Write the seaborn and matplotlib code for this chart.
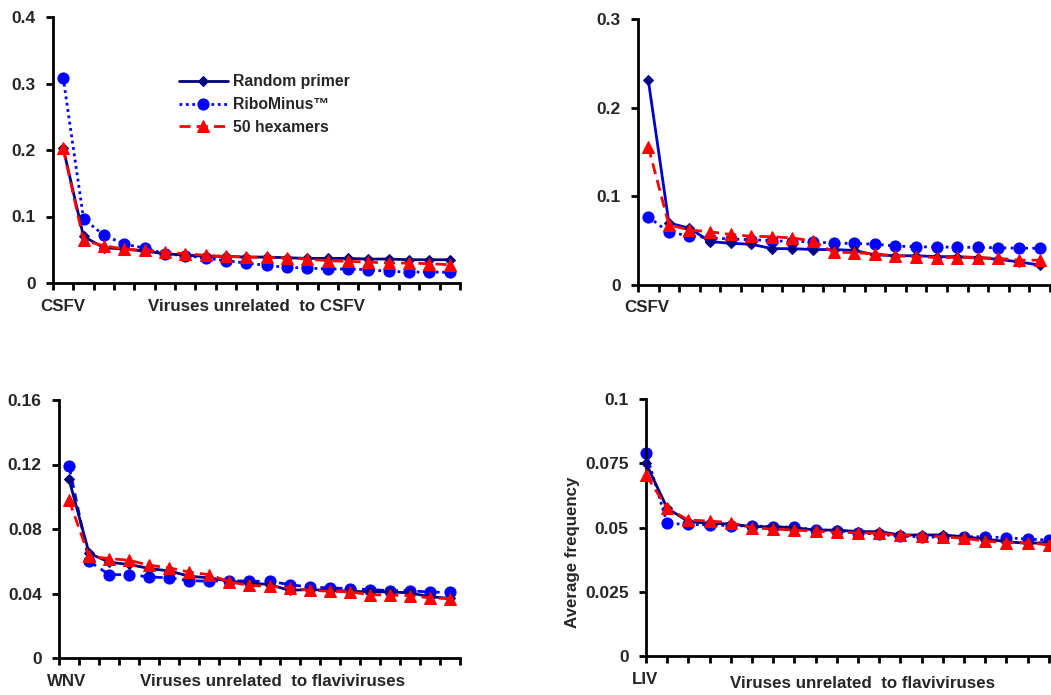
import numpy as np
import pandas as pd
import matplotlib
matplotlib.use("Agg")
import matplotlib.pyplot as plt
import seaborn as sns

sns.set_theme(style="white")
plt.rcParams['font.family'] = ['Liberation Sans', 'DejaVu Sans']
plt.rcParams['font.weight'] = 'bold'

series_names = ["Random primer", "RiboMinus\u2122", "50 hexamers"]

# Panel A: CSFV (top-left)
a_random = [0.203, 0.070, 0.053, 0.051, 0.048, 0.044, 0.042, 0.040, 0.040, 0.039,
            0.039, 0.038, 0.037, 0.037, 0.037, 0.036, 0.036, 0.035, 0.035, 0.035]
a_ribo = [0.309, 0.0965, 0.072, 0.0585, 0.0525, 0.044, 0.041, 0.0375, 0.0335, 0.030,
          0.0265, 0.0235, 0.0225, 0.021, 0.021, 0.020, 0.0175, 0.0165, 0.0165, 0.016]
a_hex = [0.2025, 0.064, 0.056, 0.051, 0.049, 0.0465, 0.044, 0.0415, 0.040, 0.039,
         0.0385, 0.0375, 0.036, 0.0335, 0.0325, 0.0315, 0.030, 0.030, 0.029, 0.0275]

# Panel B: CSFV (top-right)
b_random = [0.231, 0.070, 0.064, 0.049, 0.047, 0.046, 0.041, 0.041, 0.040, 0.040,
            0.039, 0.034, 0.033, 0.033, 0.032, 0.032, 0.031, 0.029, 0.026, 0.0225]
b_ribo = [0.077, 0.0594, 0.0556, 0.053, 0.052, 0.051, 0.050, 0.049, 0.049, 0.047,
          0.047, 0.046, 0.044, 0.043, 0.043, 0.0425, 0.0425, 0.042, 0.0415, 0.0415]
b_hex = [0.156, 0.068, 0.062, 0.060, 0.057, 0.055, 0.0545, 0.053, 0.0496, 0.037,
         0.0365, 0.035, 0.033, 0.032, 0.031, 0.031, 0.031, 0.030, 0.028, 0.028]

# Panel C: WNV (bottom-left)
c_random = [0.1107, 0.065, 0.0594, 0.058, 0.0555, 0.054, 0.0507, 0.0497, 0.0476, 0.0466,
            0.0455, 0.042, 0.0424, 0.042, 0.0414, 0.041, 0.041, 0.0404, 0.038, 0.037]
c_ribo = [0.119, 0.060, 0.0517, 0.0517, 0.0503, 0.0497, 0.048, 0.0476, 0.048, 0.0476,
          0.0476, 0.0455, 0.044, 0.0435, 0.043, 0.0424, 0.0418, 0.0418, 0.0408, 0.0408]
c_hex = [0.098, 0.063, 0.0617, 0.0606, 0.0575, 0.0559, 0.0532, 0.0517, 0.0472, 0.045,
         0.0445, 0.0435, 0.042, 0.0414, 0.041, 0.0393, 0.039, 0.0387, 0.0373, 0.0368]

# Panel D: LIV (bottom-right)
d_random = [0.075, 0.0575, 0.0523, 0.0516, 0.0514, 0.0503, 0.0503, 0.0499, 0.049, 0.049,
            0.0484, 0.0484, 0.0471, 0.0471, 0.0471, 0.0464, 0.0455, 0.0445, 0.0438, 0.0442]
d_ribo = [0.079, 0.0516, 0.0512, 0.051, 0.0507, 0.0506, 0.0503, 0.0501, 0.049, 0.0488,
          0.048, 0.0473, 0.0467, 0.0464, 0.0462, 0.0464, 0.0464, 0.046, 0.0455, 0.0451]
d_hex = [0.0704, 0.0575, 0.0529, 0.0525, 0.0519, 0.0499, 0.0494, 0.049, 0.0486, 0.0481,
         0.048, 0.0477, 0.0471, 0.0467, 0.0464, 0.0458, 0.0447, 0.0441, 0.0441, 0.0432]

a_yticks = [0, 0.1, 0.2, 0.3, 0.4]
a_ylabels = ["0", "0.1", "0.2", "0.3", "0.4"]
b_yticks = [0, 0.1, 0.2, 0.3]
b_ylabels = ["0", "0.1", "0.2", "0.3"]
c_yticks = [0, 0.04, 0.08, 0.12, 0.16]
c_ylabels = ["0", "0.04", "0.08", "0.12", "0.16"]
d_yticks = [0, 0.025, 0.05, 0.075, 0.1]
d_ylabels = ["0", "0.025", "0.05", "0.075", "0.1"]

W, H = 1051, 695
fig = plt.figure(figsize=(W / 100, H / 100), dpi=100)

def px_axes(l, t, r, b):
    return fig.add_axes([l / W, 1 - b / H, (r - l) / W, (b - t) / H])

NAVY = "#000080"
BLUE = "#0000FF"
RED = "#FF0000"
TICKFS = 12.5
LABELFS = 12.2

def draw(ax, random, ribo, hex_, ribo_ls, random_line_color, between=True, ymax=0.4,
         yticks=None, ylabels=None, xmax=19.5, legend=False):
    n = len(random)
    x = np.arange(n)
    df = pd.DataFrame({"x": x, "random": random, "ribo": ribo, "hex": hex_})
    sns.lineplot(data=df, x="x", y="random", ax=ax, color=random_line_color, lw=2.0,
                 marker="D", markersize=5.5, markerfacecolor=NAVY, markeredgecolor=NAVY,
                 linestyle="-", label=series_names[0], zorder=3)
    sns.lineplot(data=df, x="x", y="ribo", ax=ax, color=BLUE, lw=2.0,
                 marker="o", markersize=8, markerfacecolor=BLUE, markeredgecolor=BLUE,
                 linestyle=ribo_ls, label=series_names[1], zorder=2)
    sns.lineplot(data=df, x="x", y="hex", ax=ax, color=RED, lw=2.0,
                 marker="^", markersize=8, markerfacecolor=RED, markeredgecolor=RED,
                 linestyle=(0, (4, 2.2)), label=series_names[2], zorder=4)
    if between:
        ax.set_xlim(-0.5, xmax)
        ax.set_xticks(np.arange(-0.5, n + 0.5, 1.0))
    else:
        ax.set_xlim(0, xmax)
        ax.set_xticks(np.arange(0, n, 1.0))
    ax.set_xticklabels([])
    ax.set_ylim(0, ymax)
    ax.set_yticks(yticks)
    ax.set_yticklabels(ylabels, fontsize=TICKFS, fontweight="bold")
    ax.set_xlabel("")
    ax.set_ylabel("")
    for s in ["top", "right"]:
        ax.spines[s].set_visible(False)
    for s in ["left", "bottom"]:
        ax.spines[s].set_color("black")
        ax.spines[s].set_linewidth(2)
    ax.tick_params(axis="both", which="both", direction="out", length=5, width=2,
                   color="black", left=True, bottom=True)
    ax.tick_params(axis="y", pad=7.5)
    ax.set_facecolor("white")
    for ln in ax.lines:
        ln.set_clip_on(False)
    if legend:
        leg = ax.legend(loc="upper left", bbox_to_anchor=(0.31, 0.785), frameon=False,
                        fontsize=11.3, handlelength=3.1, handletextpad=0.3,
                        labelspacing=0.5, borderpad=0, borderaxespad=0)
        for t in leg.get_texts():
            t.set_fontweight("bold")
    else:
        lg = ax.get_legend()
        if lg is not None:
            lg.remove()

ax1 = px_axes(53, 17, 460, 283)
draw(ax1, a_random, a_ribo, a_hex, (0, (1, 1.3)), NAVY, ymax=0.4,
     yticks=a_yticks, ylabels=a_ylabels, legend=True)

ax2 = px_axes(638, 19, 1051, 285)
draw(ax2, b_random, b_ribo, b_hex, (0, (1, 1.6)), "#0000CC", ymax=0.3,
     yticks=b_yticks, ylabels=b_ylabels, xmax=19.55)

ax3 = px_axes(59, 400, 460, 658)
draw(ax3, c_random, c_ribo, c_hex, (0, (3, 2)), NAVY, ymax=0.16,
     yticks=c_yticks, ylabels=c_ylabels)

ax4 = px_axes(646, 399, 1051, 656)
draw(ax4, d_random, d_ribo, d_hex, (0, (1, 1.3)), NAVY, between=False, ymax=0.1,
     yticks=d_yticks, ylabels=d_ylabels, xmax=19.1)

def ftext(x, y, s, **kw):
    fig.text(x / W, 1 - y / H, s, ha="center", va="center", fontsize=LABELFS,
             fontweight="bold", **kw)

ftext(63, 306, "CSFV")
ftext(256, 306, "Viruses unrelated  to CSFV")
ftext(647, 308, "CSFV")
ftext(67, 682, "WNV")
ftext(273, 682, "Viruses unrelated  to flaviviruses")
ftext(645, 679, "LIV")
ftext(863, 684, "Viruses unrelated  to flaviviruses")
fig.text(573 / W, 1 - 552 / H, "Average frequency", rotation=90, ha="center",
         va="center", fontsize=LABELFS, fontweight="bold")

fig.savefig("out.png", dpi=100, facecolor="white")
